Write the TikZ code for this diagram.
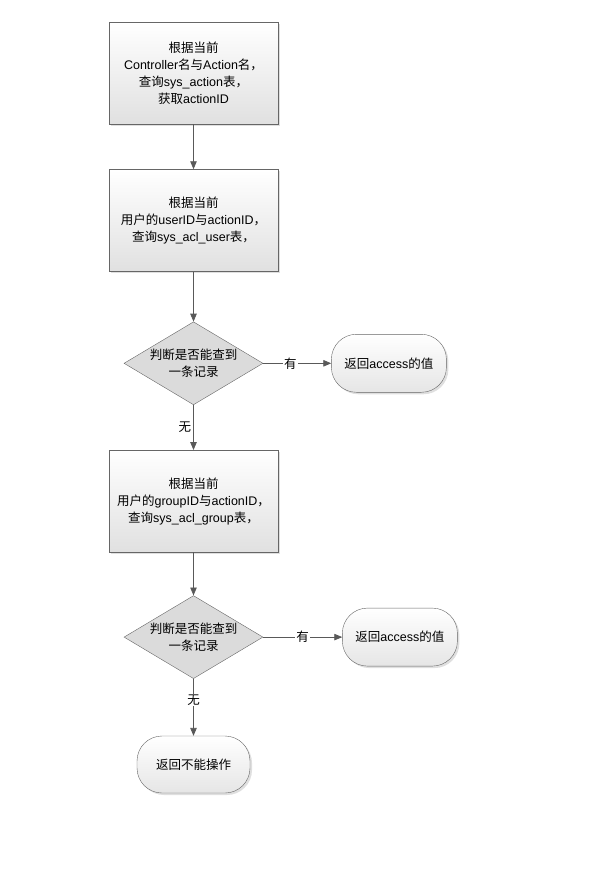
\documentclass[tikz,border=0pt]{standalone}
\usepackage{fontspec}
\setmainfont{Liberation Sans}
\newfontfamily\cjk{Noto Sans CJK SC}
\newcommand\zh[1]{{\cjk #1}}
\usetikzlibrary{arrows,positioning,shapes.geometric,shadows}

\begin{document}
\begin{tikzpicture}[
    x=1pt, y=-1pt,
    >=triangle 45,
    font=\fontsize{12.5}{17}\selectfont,
    proc/.style={rectangle, draw=black!60, top color=white, bottom color=black!12, minimum width=169pt, minimum height=102pt, inner sep=4pt, align=center, drop shadow={shadow xshift=2pt, shadow yshift=-2pt, opacity=0.25}},
    dec/.style={diamond, draw=black!60, fill=black!14, aspect=1.67, minimum width=139pt, minimum height=83pt, inner sep=0pt, align=center},
    term/.style={rectangle, rounded corners=25pt, draw=black!60, top color=white, bottom color=black!10, minimum width=115pt, minimum height=58pt, align=center, drop shadow={shadow xshift=2pt, shadow yshift=-2pt, opacity=0.25}},
    flow/.style={->, draw=black!65, line width=0.8pt},
    lbl/.style={fill=white, inner sep=1pt},
  ]

  \useasboundingbox (0,0) rectangle (600,880);

  %% ===== main column =====
  \node[proc] (getAct) at (193.5,73) {\zh{根据当前}\\Controller\zh{名与}Action\zh{名，}\\\zh{查询}sys\_action\zh{表，}\\\zh{获取}actionID};
  \node[proc, below=45pt of getAct]  (qUser)   {\zh{根据当前}\\\zh{用户的}userID\zh{与}actionID\zh{，}\\\zh{查询}sys\_acl\_user\zh{表，}};
  \node[dec,  below=50pt of qUser]   (hasUser) {\zh{判断是否能查到}\\\zh{一条记录}};
  \node[proc, below=45pt of hasUser] (qGroup)  {\zh{根据当前}\\\zh{用户的}groupID\zh{与}actionID\zh{，}\\\zh{查询}sys\_acl\_group\zh{表，}};
  \node[dec,  below=43pt of qGroup]  (hasGroup) {\zh{判断是否能查到}\\\zh{一条记录}};
  \node[term, below=57pt of hasGroup, minimum width=113pt, minimum height=57pt] (deny) {\zh{返回不能操作}};

  %% ===== results (right) =====
  \node[term, right=68pt of hasUser]  (retUser)  {\zh{返回}access\zh{的值}};
  \node[term, right=79pt of hasGroup] (retGroup) {\zh{返回}access\zh{的值}};

  %% ===== arrows =====
  \draw[flow] (getAct) -- (qUser);
  \draw[flow] (qUser) -- (hasUser);
  \draw[flow] (hasUser) -- node[pos=0.4, lbl] {\zh{有}} (retUser);
  \draw[flow] (hasUser) -- node[left, inner sep=2pt] {\zh{无}} (qGroup);
  \draw[flow] (qGroup) -- (hasGroup);
  \draw[flow] (hasGroup) -- node[lbl] {\zh{有}} (retGroup);
  \draw[flow] (hasGroup) -- node[pos=0.37, lbl] {\zh{无}} (deny);

\end{tikzpicture}
\end{document}
